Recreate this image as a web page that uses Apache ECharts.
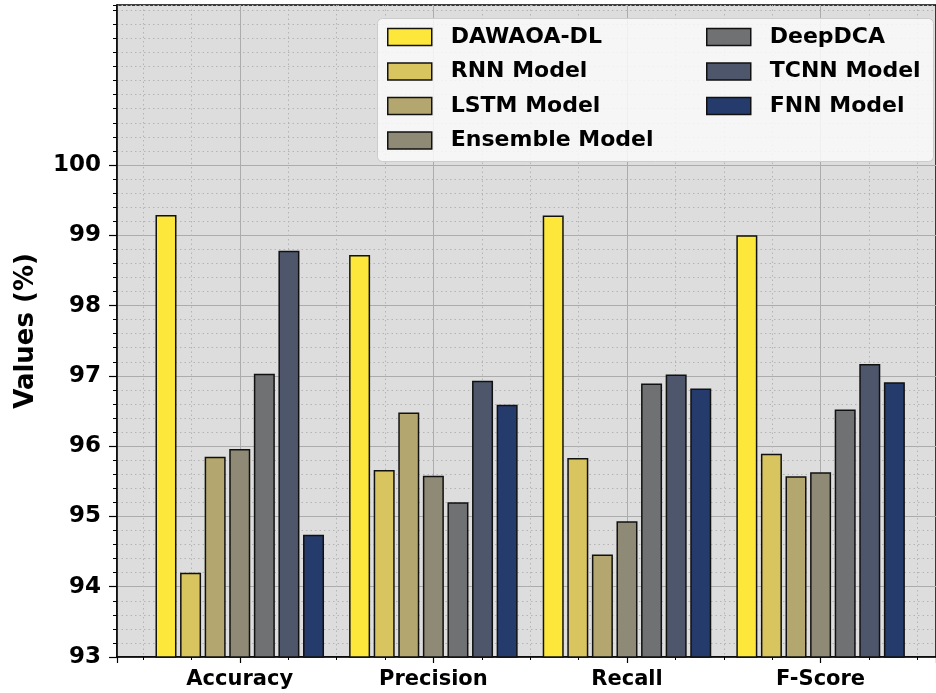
<!DOCTYPE html>
<html>
<head>
<meta charset="utf-8">
<script src="https://cdn.jsdelivr.net/npm/echarts@6/dist/echarts.min.js"></script>
<style>
html, body { margin: 0; padding: 0; background: #fff; }
#chart { width: 936px; height: 693px; }
</style>
</head>
<body>
<div id="chart"></div>
<script>
// data
var categories = ['Accuracy', 'Precision', 'Recall', 'F-Score'];
var models = ['DAWAOA-DL', 'RNN Model', 'LSTM Model', 'Ensemble Model', 'DeepDCA', 'TCNN Model', 'FNN Model'];
var dawaoa   = [99.29, 98.72, 99.28, 99.00];
var rnn      = [94.20, 95.66, 95.83, 95.89];
var lstm     = [95.85, 96.48, 94.46, 95.57];
var ensemble = [95.96, 95.58, 94.93, 95.63];
var deepdca  = [97.03, 95.20, 96.89, 96.52];
var tcnn     = [98.78, 96.93, 97.02, 97.17];
var fnn      = [94.74, 96.59, 96.82, 96.91];
var yTicks = [93, 94, 95, 96, 97, 98, 99, 100];

var values = [dawaoa, rnn, lstm, ensemble, deepdca, tcnn, fnn];
var colors = ['#fde73a', '#d9c55f', '#b3a76f', '#8f8a76', '#707173', '#4d566b', '#253b6c'];

var fontFamily = 'DejaVu Sans';
var minorGrid = { show: true, lineStyle: { color: '#b4b4b4', width: 1, type: [1.5, 3] } };
var majorGrid = { show: true, lineStyle: { color: '#acacac', width: 1, type: 'solid' } };

function get_series() {
    var series = [];
    for (var k = 0; k < models.length; k++) {
        var data = [];
        for (var i = 0; i < categories.length; i++) {
            data.push([i + (k - 3) * 0.127, values[k][i]]);
        }
        series.push({
            name: models[k],
            type: 'bar',
            xAxisIndex: 0,
            yAxisIndex: 0,
            barWidth: 21,
            barGap: '-100%',
            itemStyle: { color: colors[k], borderColor: '#111', borderWidth: 1.5 },
            emphasis: { disabled: true },
            data: data
        });
    }
    return series;
}

function legend_block(names, left) {
    return {
        data: names,
        orient: 'vertical',
        left: left,
        top: 25,
        padding: 0,
        itemGap: 10.5,
        itemWidth: 44,
        itemHeight: 17,
        icon: 'rect',
        selectedMode: false,
        z: 5,
        itemStyle: { borderColor: '#111', borderWidth: 1.5 },
        textStyle: { fontFamily: fontFamily, fontWeight: 'bold', fontSize: 22, lineHeight: 24, color: '#000', padding: [0, 0, 0, 14] }
    };
}

var option = {
    animation: false,
    backgroundColor: '#fff',
    grid: [
        { left: 117, right: -2, top: 5, bottom: 36, show: true, backgroundColor: '#dddddd', borderColor: '#000', borderWidth: 1.5 },
        { left: 117, right: -2, top: 165, bottom: 36, show: false }
    ],
    legend: [legend_block(models.slice(0, 4), 387), legend_block(models.slice(4), 706)],
    graphic: [{
        type: 'rect', left: 377, top: 18, z: 3,
        shape: { width: 556, height: 143, r: 5 },
        style: { fill: 'rgba(250,250,250,0.85)', stroke: '#cccccc', lineWidth: 1 }
    }],
    xAxis: [
        {
            type: 'value', gridIndex: 0, min: -0.634, max: 3.596, splitNumber: 4,
            axisLine: { show: true, onZero: false, lineStyle: { color: '#000', width: 1.5 } },
            axisTick: { show: true, length: 6, lineStyle: { color: '#000', width: 1.2 } },
            minorTick: { show: true, splitNumber: 4, length: 3, lineStyle: { color: '#000', width: 1 } },
            splitLine: majorGrid,
            minorSplitLine: minorGrid,
            axisLabel: {
                margin: 12, color: '#000', fontFamily: fontFamily, fontWeight: 'bold', fontSize: 21,
                showMinLabel: false, showMaxLabel: false,
                formatter: function (v) {
                    var i = Math.round(v);
                    if (Math.abs(v - i) < 1e-6 && i >= 0 && i < categories.length) return categories[i];
                    return '';
                }
            }
        },
        { type: 'value', gridIndex: 1, min: -0.634, max: 3.596, show: false }
    ],
    yAxis: [
        {
            type: 'value', gridIndex: 0, min: 93, max: 102.276, interval: 0.2,
            name: 'Values (%)', nameLocation: 'middle', nameGap: 78,
            nameTextStyle: { fontFamily: fontFamily, fontWeight: 'bold', fontSize: 26, color: '#000' },
            axisLine: { show: true, onZero: false, lineStyle: { color: '#000', width: 1.5 } },
            axisTick: { show: true, length: 4, lineStyle: { color: '#000', width: 1 } },
            axisLabel: { show: false },
            splitLine: minorGrid
        },
        {
            type: 'value', gridIndex: 1, min: yTicks[0], max: yTicks[yTicks.length - 1], interval: 1,
            axisLine: { show: false, onZero: false },
            axisTick: { show: true, length: 8, lineStyle: { color: '#000', width: 1.2 } },
            axisLabel: { margin: 16, color: '#000', fontFamily: fontFamily, fontWeight: 'bold', fontSize: 23 },
            splitLine: majorGrid
        }
    ],
    series: get_series()
};

var myChart = echarts.init(document.getElementById('chart'));
myChart.setOption(option);
</script>
</body>
</html>
